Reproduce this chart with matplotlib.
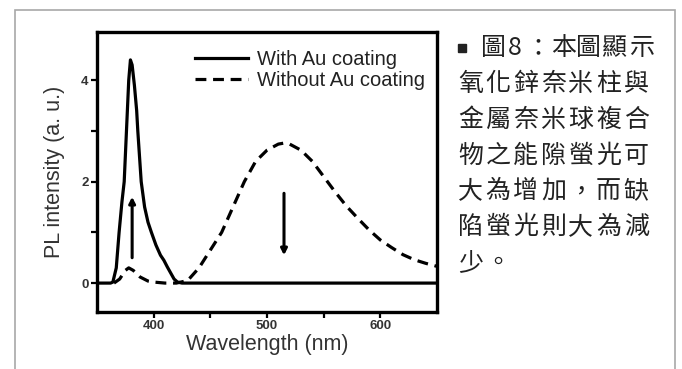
import matplotlib
matplotlib.use("Agg")
import matplotlib.pyplot as plt
from matplotlib.patches import Rectangle
import numpy as np

# ---- data ----
wl_with = [350, 362, 364, 367, 369.5, 372, 374, 376, 378, 379.5, 381, 383, 385, 386,
           389, 392, 395, 398, 402, 406, 409, 412, 415, 418, 421, 425, 650]
pl_with = [0, 0, 0.02, 0.3, 1.0, 1.6, 2.0, 3.0, 4.0, 4.4, 4.3, 3.9, 3.4, 3.0,
           2.0, 1.5, 1.2, 1.0, 0.75, 0.55, 0.45, 0.32, 0.2, 0.08, 0.02, 0, 0]

wl_without = [365, 370, 375, 378, 382, 388, 395, 400, 410, 420, 430, 440, 450, 460,
              470, 480, 490, 500, 510, 515, 520, 530, 540, 550, 560, 570, 580, 590,
              600, 610, 620, 630, 640, 650]
pl_without = [0, 0.08, 0.25, 0.3, 0.25, 0.12, 0.04, 0.02, 0.0, 0.0, 0.05, 0.3, 0.65, 1.0,
              1.5, 2.0, 2.4, 2.62, 2.74, 2.76, 2.74, 2.62, 2.4, 2.1, 1.8, 1.52, 1.28, 1.05,
              0.85, 0.7, 0.56, 0.46, 0.39, 0.33]

series_labels = ["With Au coating", "Without Au coating"]

arrow_x = [381, 515]
arrow_from = [0.5, 1.77]
arrow_to = [1.7, 0.55]

x_ticks = [400, 500, 600]
x_minor = [450, 550]
y_ticks = [0, 2, 4]
y_minor = [1, 3]

caption_lines = ["■ 圖8：本圖顯示", "氧化鋅奈米柱與", "金屬奈米球複合",
                 "物之能隙螢光可", "大為增加，而缺", "陷螢光則大為減", "少。"]

W, H = 682, 369
fig = plt.figure(figsize=(W / 100, H / 100), dpi=100)
fig.patch.set_facecolor("white")

# outer gray frame
frame_ax = fig.add_axes([0, 0, 1, 1])
frame_ax.set_xlim(0, W)
frame_ax.set_ylim(H, 0)
frame_ax.axis("off")
frame_ax.plot([15, 15, 675, 675], [H + 5, 10, 10, H + 5], color="#a8a8a8", lw=1.2,
              solid_joinstyle="miter")

ax = fig.add_axes([97 / W, (H - 312) / H, (437 - 97) / W, (312 - 32) / H])
ax.set_xlim(350, 650)
ax.set_ylim(-0.57, 4.95)

ax.plot(wl_with, pl_with, color="black", lw=2.3, label=series_labels[0])
ax.plot(wl_without, pl_without, color="black", lw=2.3, ls=(0, (3.4, 2.1)),
        label=series_labels[1])

for x, y0, y1 in zip(arrow_x, arrow_from, arrow_to):
    ax.annotate("", xy=(x, y1), xytext=(x, y0),
                arrowprops=dict(arrowstyle="-|>,head_length=0.35,head_width=0.18",
                                color="black", lw=2.2, shrinkA=0, shrinkB=0))

for s in ax.spines.values():
    s.set_linewidth(2.4)

ax.set_xticks(x_ticks)
ax.set_xticks(x_minor, minor=True)
ax.set_yticks(y_ticks)
ax.set_yticks(y_minor, minor=True)
ax.tick_params(which="both", direction="out", length=4, width=1.6, labelsize=9.5,
               pad=2)
for lab in ax.get_xticklabels() + ax.get_yticklabels():
    lab.set_fontfamily("Liberation Sans")
    lab.set_fontweight("bold")
    lab.set_color("#333333")

ax.set_xlabel("Wavelength (nm)", fontsize=15.5, family="Liberation Sans",
              color="#333333", labelpad=1)
ax.set_ylabel("PL intensity (a. u.)", fontsize=15.5, family="Liberation Sans",
              color="#333333", labelpad=12)

leg = ax.legend(loc="upper right", frameon=False,
                prop={"family": "Liberation Sans", "size": 14.5},
                handlelength=2.6, handletextpad=0.45, labelspacing=0.1,
                borderaxespad=0.2, bbox_to_anchor=(1.0, 0.98))
for t in leg.get_texts():
    t.set_color("#222222")

# caption text, placed character by character
line_y = [48, 84, 120, 156, 191, 227, 263]
step = 27.6
cjk = ["Noto Sans CJK TC", "DejaVu Sans"]
for li, (line, yc) in enumerate(zip(caption_lines, line_y)):
    if line.startswith("■"):
        frame_ax.add_patch(Rectangle((458, yc - 4), 8, 8, color="#222222"))
        chars = line[2:]
        lefts = [481, 508, 525, 551, 576, 601, 629]
        for ch, x in zip(chars, lefts):
            frame_ax.text(x, yc, ch, ha="left", va="center", fontsize=18,
                          family=cjk, color="#222222")
    else:
        for i, ch in enumerate(line):
            frame_ax.text(458 + i * step, yc, ch, ha="left", va="center",
                          fontsize=18, family=cjk, color="#222222")

fig.savefig("out.png", dpi=100, facecolor="white")
